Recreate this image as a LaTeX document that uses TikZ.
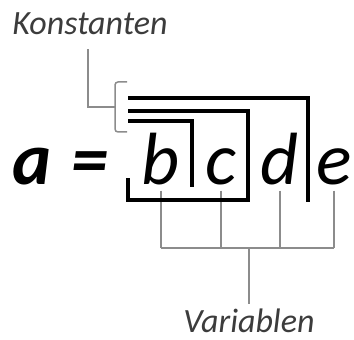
\documentclass[tikz,border=0pt]{standalone}
\usepackage{fontspec}
\setmainfont{Carlito}
\usetikzlibrary{positioning}
\definecolor{ink}{HTML}{000000}
\definecolor{labelgray}{HTML}{3C3C3C}
\definecolor{wire}{HTML}{8C8C8C}
\tikzset{
  letter/.style={inner sep=0pt,anchor=base,text=ink,
                 font=\fontsize{74}{74}\selectfont\itshape},
  boldletter/.style={letter,font=\fontsize{74}{74}\selectfont\bfseries\itshape},
  tag/.style={inner sep=0pt,anchor=base,text=labelgray,
              font=\fontsize{34}{34}\selectfont\itshape},
  sleeve/.style={draw=ink,line width=3.2pt},
  wireline/.style={draw=wire,line width=1.5pt}
}

\begin{document}
\begin{tikzpicture}[x=1pt,y=1pt]
    \useasboundingbox (0,0) rectangle (354,340);
    \node[tag] (kon) at (90,305) {Konstanten};
    \node[boldletter] (a) at (32,155) {a};
    \node[boldletter] (eq) at (90,155) {=};
    \node[letter] (b) at (161,155) {b};
    \node[letter] (c) at (221,155) {c};
    \node[letter] (d) at (280,155) {d};
    \node[letter] (e) at (334,155) {e};
    \node[tag] (var) at (249,7) {Variablen};
    \coordinate (bus) at (249,92);
    \coordinate (btip) at (115,233);
    % variables
    \draw[wireline] ([yshift=-5pt]b.south) -- (b |- bus);
    \draw[wireline] ([yshift=-5pt]c.south) -- (c |- bus);
    \draw[wireline] ([yshift=-5pt]d.south) -- (d |- bus);
    \draw[wireline] ([yshift=-5pt]e.south) -- (e |- bus);
    \draw[wireline] (b |- bus) -- (e |- bus);
    \draw[wireline] (bus) -- ([yshift=5pt]var.north);
    % constants
    \draw[wireline] ([xshift=-2pt,yshift=-14pt]kon.south) |- (btip);
    \draw[wireline,rounded corners=3pt] (127,258) -- (btip |- 0,258) -- (btip |- 0,208) -- (127,208);
    \draw[sleeve] (128,242) -- (308,242) -- (308,138);
    \draw[sleeve] (128,229) -- (248,229) -- (248,140) -- (128,140) -- (128,162);
    \draw[sleeve] (128,219) -- (192,219) -- (192,153);
\end{tikzpicture}
\end{document}
